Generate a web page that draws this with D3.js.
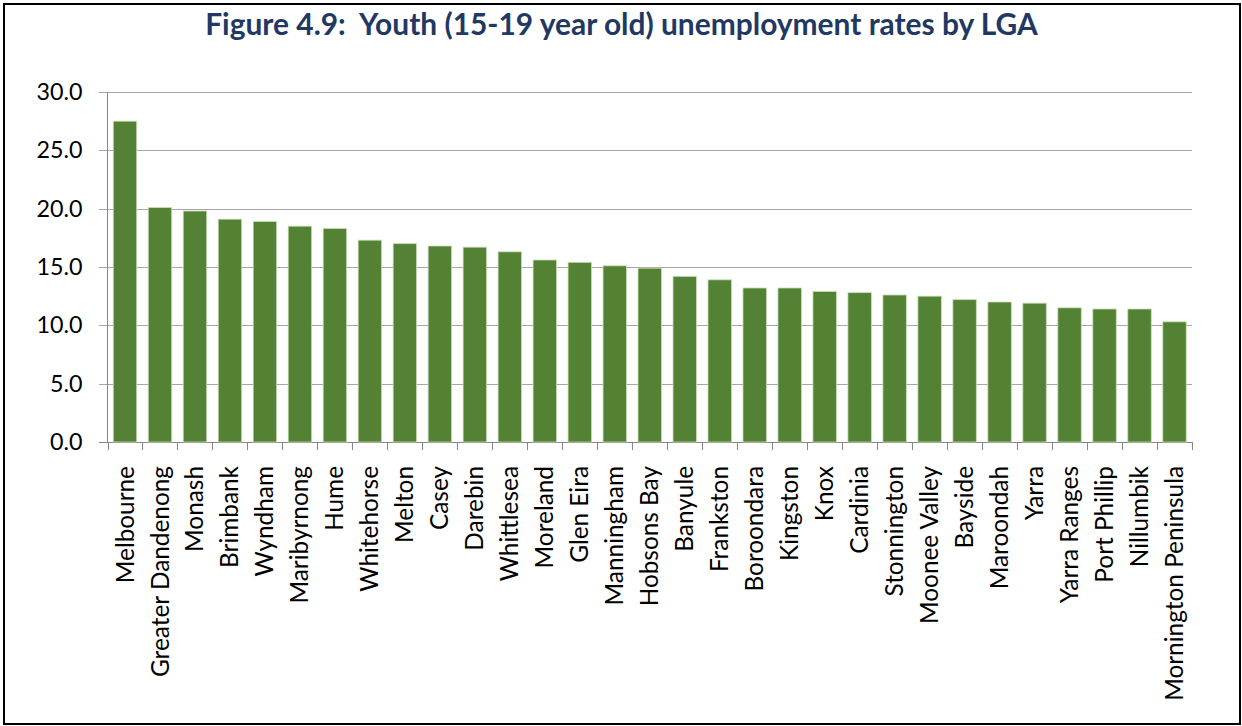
<!DOCTYPE html>
<html>
<head>
<meta charset="utf-8">
<script src="https://cdn.jsdelivr.net/npm/d3@7"></script>
<style>
  html, body { margin: 0; padding: 0; background: #fff; }
  svg { display: block; font-family: Lato, "Open Sans", sans-serif; }
</style>
</head>
<body>
<svg id="chart" width="1242" height="726"></svg>
<script>
// Youth (15-19) unemployment rate, per cent, by Local Government Area
const lgas = [
  "Melbourne", "Greater Dandenong", "Monash", "Brimbank", "Wyndham",
  "Maribyrnong", "Hume", "Whitehorse", "Melton", "Casey", "Darebin",
  "Whittlesea", "Moreland", "Glen Eira", "Manningham", "Hobsons Bay",
  "Banyule", "Frankston", "Boroondara", "Kingston", "Knox", "Cardinia",
  "Stonnington", "Moonee Valley", "Bayside", "Maroondah", "Yarra",
  "Yarra Ranges", "Port Phillip", "Nillumbik", "Mornington Peninsula"
];
const rates = [
  27.5, 20.1, 19.8, 19.1, 18.9,
  18.5, 18.3, 17.3, 17.0, 16.8, 16.7,
  16.3, 15.6, 15.4, 15.1, 14.9,
  14.2, 13.9, 13.2, 13.2, 12.9, 12.8,
  12.6, 12.5, 12.2, 12.0, 11.9,
  11.5, 11.4, 11.4, 10.3
];
const yTicks = [0, 5, 10, 15, 20, 25, 30];
const titleText = "Figure 4.9:  Youth (15-19 year old) unemployment rates by LGA";

const svg = d3.select("#chart");
const plot = { left: 107.5, right: 1192, top: 92, bottom: 442 };
const FONT = "Lato, 'Open Sans', sans-serif";

// size a font so that a sample string spans a given width
function fitSize(text, weight, width) {
  const t = svg.append("text").attr("font-size", 20).attr("font-weight", weight)
    .style("white-space", "pre").text(text);
  const w = t.node().getComputedTextLength();
  t.remove();
  return 20 * width / w;
}

// outer frame
svg.append("rect")
  .attr("x", 4).attr("y", 4)
  .attr("width", 1236).attr("height", 720)
  .attr("fill", "none").attr("stroke", "#000").attr("stroke-width", 2);

// title
svg.append("text")
  .attr("x", 621.5).attr("y", 35)
  .attr("text-anchor", "middle")
  .attr("font-weight", 700)
  .attr("font-size", fitSize(titleText, 700, 833))
  .attr("fill", "#1f3864")
  .style("white-space", "pre")
  .text(titleText);

const x = d3.scaleBand().domain(lgas).range([plot.left, plot.right])
  .paddingInner(0.33).paddingOuter(0.165);
const y = d3.scaleLinear().domain([0, 30]).range([plot.bottom, plot.top]);

// horizontal gridlines with short ticks left of the axis
svg.append("g").attr("class", "grid")
  .selectAll("line").data(yTicks).join("line")
  .attr("x1", plot.left - 8.5).attr("x2", plot.right)
  .attr("y1", d => Math.round(y(d)) + 0.5).attr("y2", d => Math.round(y(d)) + 0.5)
  .attr("stroke", d => d === 0 ? "#868686" : "#a6a6a6")
  .attr("stroke-width", 1);

// y axis labels
const yFont = fitSize("30.0", 400, 46);
const yAxis = d3.axisLeft(y).tickValues(yTicks).tickFormat(d3.format(".1f"))
  .tickSize(0).tickPadding(0);
const gy = svg.append("g").attr("transform", `translate(${plot.left - 25},0)`).call(yAxis);
gy.select(".domain").remove();
gy.selectAll("text")
  .attr("font-family", FONT)
  .attr("font-size", yFont).attr("fill", "#000");

// bars
svg.append("g").selectAll("rect").data(rates).join("rect")
  .attr("x", (d, i) => x(lgas[i]))
  .attr("width", x.bandwidth())
  .attr("y", d => y(d))
  .attr("height", d => y(0) - y(d))
  .attr("fill", "#548235")
  .attr("stroke", "#c7dcb4")
  .attr("stroke-width", 0.8);

// vertical axis line
svg.append("line")
  .attr("x1", plot.left).attr("x2", plot.left)
  .attr("y1", plot.top).attr("y2", plot.bottom)
  .attr("stroke", "#868686").attr("stroke-width", 1);

// category axis: ticks between bands, rotated labels
const boundaries = d3.range(lgas.length + 1).map(i => plot.left + i * (plot.right - plot.left) / lgas.length);
svg.append("g").selectAll("line").data(boundaries).join("line")
  .attr("x1", d => Math.round(d) + 0.5).attr("x2", d => Math.round(d) + 0.5)
  .attr("y1", plot.bottom).attr("y2", plot.bottom + 8)
  .attr("stroke", "#868686");

const xFont = fitSize("Greater Dandenong", 400, 211);
const xAxis = d3.axisBottom(x).tickSize(0).tickPadding(0);
const gx = svg.append("g").attr("transform", `translate(0,${plot.bottom})`).call(xAxis);
gx.select(".domain").remove();
gx.selectAll("text")
  .attr("font-family", FONT)
  .attr("font-size", xFont).attr("fill", "#000")
  .attr("text-anchor", "end")
  .attr("transform", "rotate(-90)")
  .attr("x", -24).attr("y", 0).attr("dy", "0.35em");
</script>
</body>
</html>
